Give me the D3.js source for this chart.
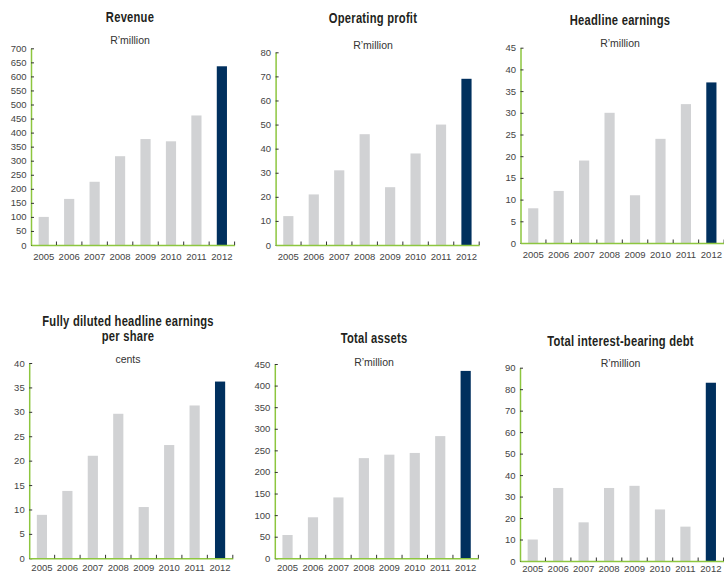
<!DOCTYPE html>
<html>
<head>
<meta charset="utf-8">
<script src="https://cdn.jsdelivr.net/npm/d3@7"></script>
<style>
    body { margin: 0; background: #fff; }
    .title { font-family: "Liberation Sans", Arial, sans-serif; font-weight: bold; font-size: 14px; fill: #231f20; letter-spacing: 0.3px; }
    .unit { font-family: "Liberation Sans", sans-serif; font-size: 10.5px; fill: #333; }
    .tick text { font-family: "Liberation Sans", sans-serif; font-size: 9.5px; fill: #444; }
</style>
</head>
<body>
<div id="chart"></div>
<script>
// data
const years = ["2005", "2006", "2007", "2008", "2009", "2010", "2011", "2012"];
const revenue = [100, 164, 225, 316, 377, 369, 461, 636];
const operatingProfit = [12, 21, 31, 46, 24, 38, 50, 69];
const headlineEarnings = [8, 12, 19, 30, 11, 24, 32, 37];
const dilutedHeps = [8.9, 13.8, 21.0, 29.6, 10.5, 23.2, 31.3, 36.2];
const totalAssets = [54, 95, 141, 232, 240, 244, 283, 434];
const interestDebt = [10, 34, 18, 34, 35, 24, 16, 83];

const panels = [
    {title: ["Revenue"], unit: "R\u2019million", values: revenue, max: 700, step: 50,
     x0: 31, top: 48.3, bottom: 245, tx: 130, ty: [21.5], uy: 44, pad: 8},
    {title: ["Operating profit"], unit: "R\u2019million", values: operatingProfit, max: 80, step: 10,
     x0: 275.6, top: 52.3, bottom: 245, tx: 373, ty: [23.3], uy: 49, pad: 8},
    {title: ["Headline earnings"], unit: "R\u2019million", values: headlineEarnings, max: 45, step: 5,
     x0: 520.5, top: 47.7, bottom: 243, tx: 620, ty: [24.5], uy: 47.3, pad: 8},
    {title: ["Fully diluted headline earnings", "per share"], unit: "cents", values: dilutedHeps, max: 40, step: 5,
     x0: 29.2, top: 363, bottom: 558.3, tx: 128, ty: [325.5, 340.5], uy: 363.3, pad: 6},
    {title: ["Total assets"], unit: "R\u2019million", values: totalAssets, max: 450, step: 50,
     x0: 274.8, top: 364, bottom: 558.3, tx: 374, ty: [343.3], uy: 365.7, pad: 6},
    {title: ["Total interest-bearing debt"], unit: "R\u2019million", values: interestDebt, max: 90, step: 10,
     x0: 520, top: 367.7, bottom: 561, tx: 620.5, ty: [346], uy: 366.7, pad: 4}
];

const width = 724, height = 573, bandStep = 25.45;
const green = "#8dc63f", grey = "#d1d2d4", navy = "#00305e", tickColor = "#333";

const svg = d3.select("#chart").append("svg")
    .attr("width", width)
    .attr("height", height);

panels.forEach(p => {
    const g = svg.append("g");

    const x = d3.scaleBand()
        .domain(years)
        .range([p.x0, p.x0 + bandStep * years.length])
        .paddingInner(0.6)
        .paddingOuter(0.3);
    const y = d3.scaleLinear()
        .domain([0, p.max])
        .range([p.bottom, p.top]);

    // titles (squeezed to look like a condensed face)
    p.title.forEach((t, i) => {
        g.append("text").attr("class", "title")
            .attr("transform", `translate(${p.tx},${p.ty[i]}) scale(0.8,1)`)
            .attr("text-anchor", "middle")
            .text(t);
    });
    g.append("text").attr("class", "unit")
        .attr("x", p.tx).attr("y", p.uy)
        .attr("text-anchor", "middle")
        .text(p.unit);

    // bars
    g.selectAll("rect")
        .data(p.values)
        .join("rect")
        .attr("x", (d, i) => x(years[i]))
        .attr("width", x.bandwidth())
        .attr("y", d => y(d))
        .attr("height", d => y(0) - y(d))
        .attr("fill", (d, i) => i === years.length - 1 ? navy : grey);

    // y axis
    const yAxis = g.append("g")
        .attr("transform", `translate(${p.x0},0)`)
        .call(d3.axisLeft(y)
            .tickValues(d3.range(0, p.max + p.step / 2, p.step))
            .tickSizeInner(-3)
            .tickSizeOuter(0)
            .tickPadding(4.5));
    yAxis.select(".domain").attr("stroke", green).attr("stroke-width", 1.5);
    yAxis.selectAll(".tick line").attr("stroke", tickColor);

    // x axis
    const xAxis = g.append("g")
        .attr("transform", `translate(0,${p.bottom})`)
        .call(d3.axisBottom(x).tickSize(0).tickPadding(p.pad));
    xAxis.select(".domain").attr("stroke", green).attr("stroke-width", 1.5);

    // small marks between years
    g.selectAll("line.sep")
        .data(years)
        .join("line")
        .attr("class", "sep")
        .attr("x1", d => x(d) + x.bandwidth() + x.step() * x.paddingInner() / 2)
        .attr("x2", d => x(d) + x.bandwidth() + x.step() * x.paddingInner() / 2)
        .attr("y1", p.bottom)
        .attr("y2", p.bottom - 3.5)
        .attr("stroke", tickColor);
});
</script>
</body>
</html>
